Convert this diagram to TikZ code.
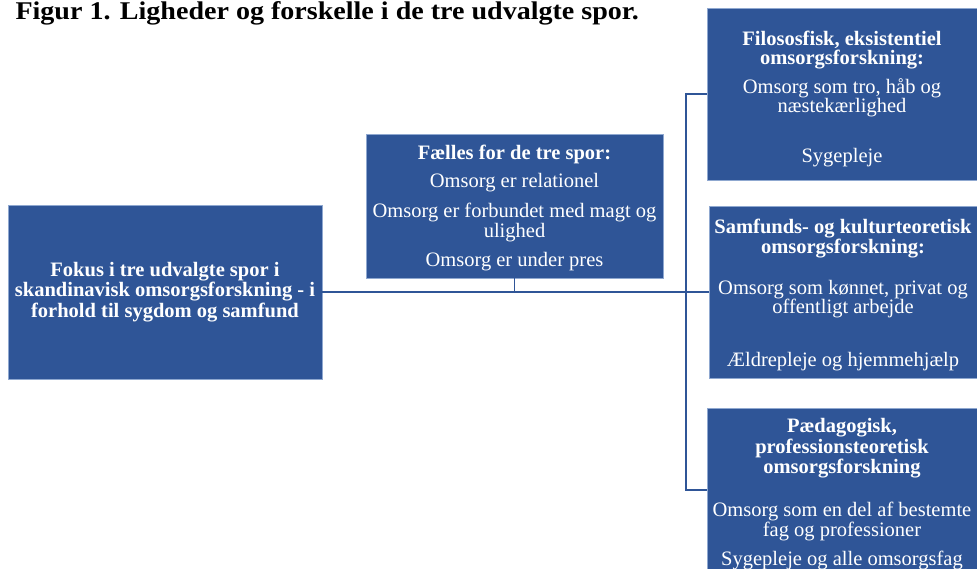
\documentclass[tikz,border=0pt]{standalone}
\usepackage{fontspec}
\setmainfont{Liberation Serif}
\newfontfamily\titlefont[FakeStretch=1.1]{Liberation Serif}
\usetikzlibrary{positioning}

\definecolor{sporblue}{HTML}{2F5597}
\definecolor{sporedge}{HTML}{8FA8D0}

\tikzset{
  sporbox/.style={fill=sporblue, draw=sporedge, line width=0.5pt, text=white,
    align=center, inner sep=0pt, font=\fontsize{20.5}{20}\selectfont},
  link/.style={draw=sporblue, line width=1.8pt},
}

\begin{document}
\begin{tikzpicture}[x=1pt,y=-1pt]
    \useasboundingbox (0,0) rectangle (977,569);
    % title
    \node[anchor=base west, font=\titlefont\bfseries\fontsize{25.5}{28}\selectfont] (titel) at (12,20)
        {Figur 1. Ligheder og forskelle i de tre udvalgte spor.};
    % boxes
    \node[sporbox, minimum width=314pt, minimum height=174pt] (fokus) at (165,292)
        {\textbf{Fokus i tre udvalgte spor i}\\[0.5pt]
         \textbf{skandinavisk omsorgsforskning - i}\\[0.5pt]
         \textbf{forhold til sygdom og samfund}};
    \node[sporbox, minimum width=297pt, minimum height=144pt] (faelles) at (514.5,206)
        {\rule{0pt}{18pt}\textbf{Fælles for de tre spor:}\\[8pt]
         Omsorg er relationel\\[10pt]
         Omsorg er forbundet med magt og\\
         ulighed\\[9pt]
         Omsorg er under pres};
    \node[sporbox, minimum width=270pt, minimum height=172pt] (filosofi) at (842,94)
        {\rule{0pt}{24pt}\textbf{Filososfisk, eksistentiel}\\[-1pt]
         \textbf{omsorgsforskning:}\\[9pt]
         Omsorg som tro, håb og\\[-1pt]
         næstekærlighed\\[30pt]
         Sygepleje};
    \node[sporbox, minimum width=268pt, minimum height=172pt] (samfund) at (843,292)
        {\rule{0pt}{20pt}\textbf{Samfunds- og kulturteoretisk}\\
         \textbf{omsorgsforskning:}\\[21pt]
         Omsorg som kønnet, privat og\\[-1pt]
         offentligt arbejde\\[33pt]
         Ældrepleje og hjemmehjælp};
    \node[sporbox, minimum width=270pt, minimum height=164pt] (paedagog) at (842,490)
        {\rule{0pt}{22pt}\textbf{Pædagogisk,}\\[1pt]
         \textbf{professionsteoretisk}\\
         \textbf{omsorgsforskning}\\[23pt]
         Omsorg som en del af bestemte\\
         fag og professioner\\[9pt]
         Sygepleje og alle omsorgsfag};
    % connectors
    \coordinate (bus) at (686,292);
    \draw[link] (fokus.east) -- (samfund.west);
    \draw[link] (faelles.south) -- (faelles.south |- fokus.east);
    \draw[link] (filosofi.west) -| (bus) |- (paedagog.west);
\end{tikzpicture}
\end{document}
